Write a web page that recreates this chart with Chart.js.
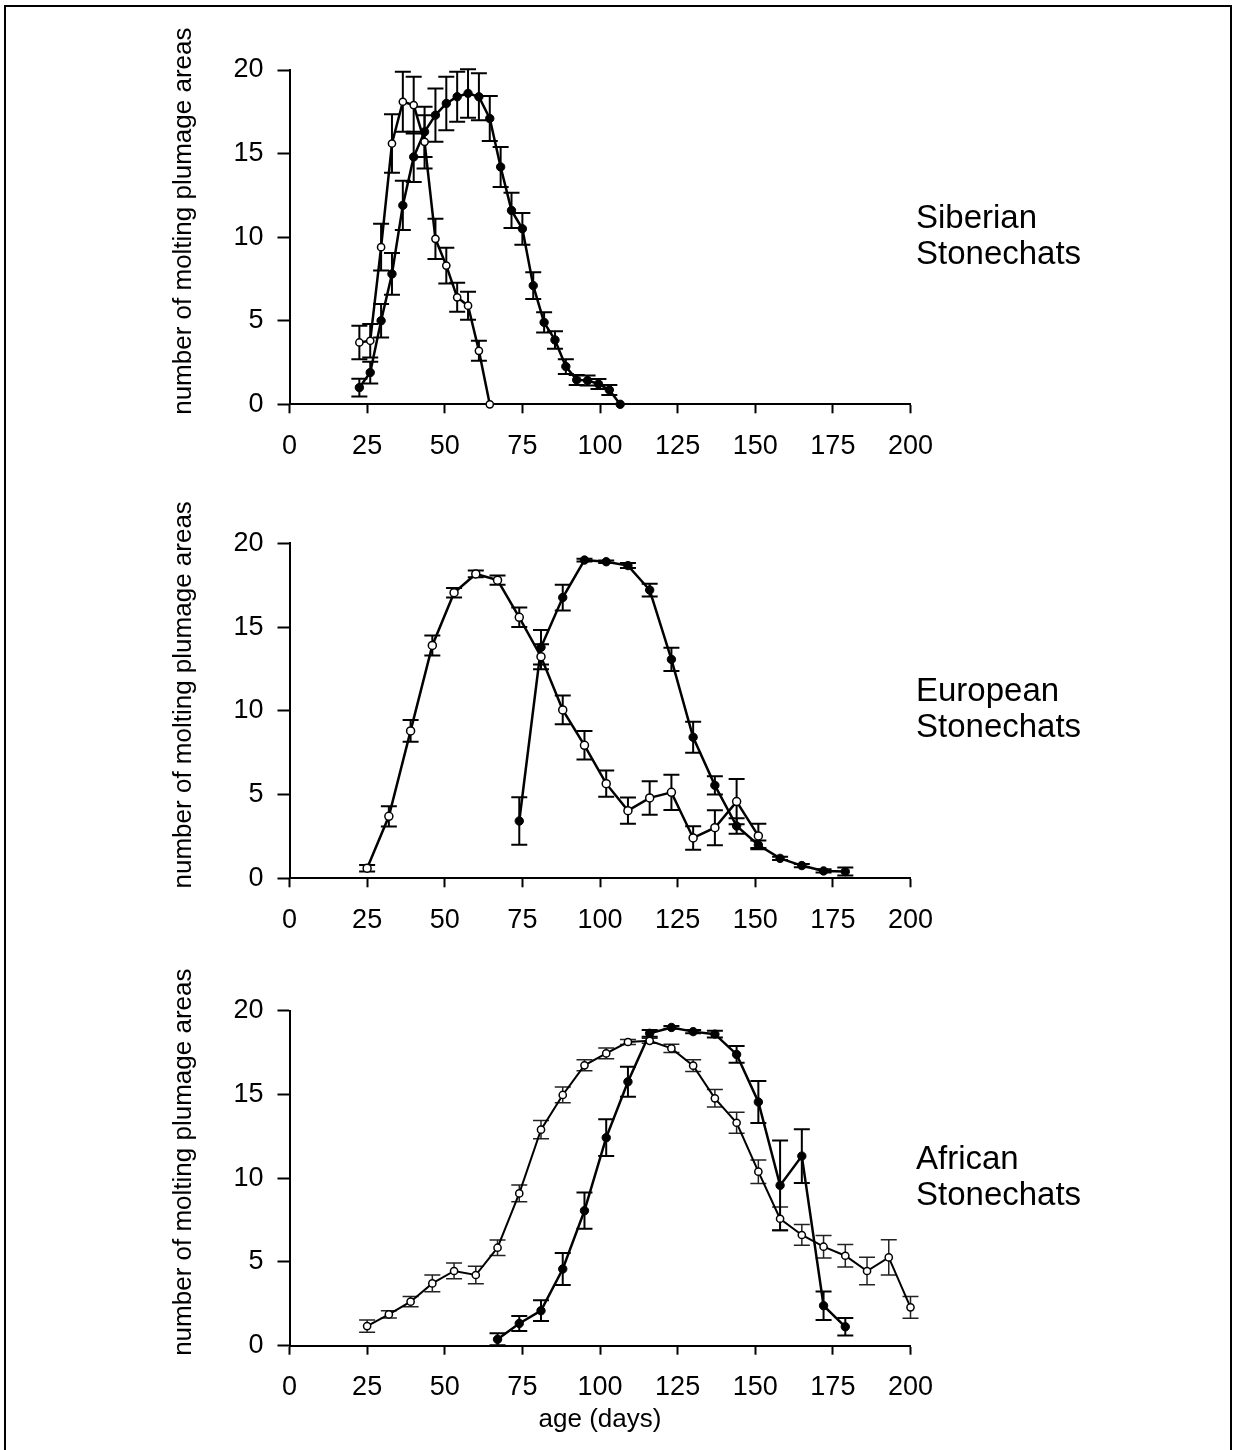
<!DOCTYPE html>
<html>
<head>
<meta charset="utf-8">
<script src="https://cdn.jsdelivr.net/npm/chart.js@4.4.0/dist/chart.umd.min.js"></script>
<style>
  html, body { margin: 0; padding: 0; background: #fff; }
  #pagina { position: relative; width: 1234px; height: 1450px; overflow: hidden; }
  #marco { position: absolute; left: 4px; top: 5px; width: 1228px; height: 1500px;
           border: 2px solid #000; border-bottom: none; box-sizing: border-box; }
  canvas { position: absolute; left: 0; }
</style>
</head>
<body>
<div id="pagina">
  <div id="marco"></div>
  <canvas id="panel1" width="1234" height="470" style="top:0px"></canvas>
  <canvas id="panel2" width="1234" height="470" style="top:470px"></canvas>
  <canvas id="panel3" width="1234" height="510" style="top:940px"></canvas>
</div>
<script>
// Ejes
const xTicks = [0, 25, 50, 75, 100, 125, 150, 175, 200];
const yTicks = [0, 5, 10, 15, 20];
const tituloY = 'number of molting plumage areas';
const tituloX = 'age (days)';

// Siberian Stonechats
const sibDiasAbiertos = [22.5, 26, 29.5, 33, 36.5, 40, 43.5, 47, 50.5, 54, 57.5, 61, 64.5];
const sibAbiertos = [3.7, 3.8, 9.4, 15.6, 18.1, 17.9, 15.7, 9.9, 8.3, 6.4, 5.9, 3.2, 0];
const sibErrAbiertos = [1.0, 1.0, 1.4, 1.75, 1.8, 1.7, 1.6, 1.2, 1.07, 0.87, 0.84, 0.6, 0];
const sibDiasLlenos = [22.5, 26, 29.5, 33, 36.5, 40, 43.5, 47, 50.5, 54, 57.5, 61, 64.5, 68, 71.5, 75, 78.5, 82, 85.5, 89, 92.5, 96, 99.5, 103, 106.5];
const sibLlenos = [1.0, 1.9, 5.0, 7.8, 11.9, 14.8, 16.3, 17.3, 18.0, 18.4, 18.6, 18.4, 17.1, 14.2, 11.6, 10.5, 7.1, 4.9, 3.85, 2.26, 1.46, 1.42, 1.22, 0.86, 0];
const sibErrLlenos = [0.53, 0.65, 1.0, 1.25, 1.47, 1.5, 1.5, 1.6, 1.6, 1.5, 1.45, 1.4, 1.35, 1.2, 1.05, 0.95, 0.8, 0.6, 0.52, 0.44, 0.3, 0.3, 0.3, 0.3, 0];

// European Stonechats
const eurDiasAbiertos = [25, 32, 39, 46, 53, 60, 67, 74, 81, 88, 95, 102, 109, 116, 123, 130, 137, 144, 151];
const eurAbiertos = [0.6, 3.7, 8.8, 13.9, 17.05, 18.17, 17.8, 15.58, 13.23, 10.05, 7.94, 5.65, 4.04, 4.8, 5.13, 2.41, 3.02, 4.58, 2.53];
const eurErrAbiertos = [0.2, 0.6, 0.65, 0.6, 0.28, 0.2, 0.28, 0.58, 0.75, 0.86, 0.85, 0.78, 0.78, 1.0, 1.05, 0.7, 1.05, 1.35, 0.72];
const eurDiasLlenos = [74, 81, 88, 95, 102, 109, 116, 123, 130, 137, 144, 151, 158, 165, 172, 179];
const eurLlenos = [3.42, 13.79, 16.76, 19.0, 18.9, 18.67, 17.21, 13.07, 8.42, 5.55, 3.12, 1.99, 1.19, 0.76, 0.44, 0.4];
const eurErrLlenos = [1.42, 1.03, 0.77, 0.08, 0.08, 0.15, 0.38, 0.7, 0.92, 0.55, 0.46, 0.26, 0.1, 0.1, 0.1, 0.24];

// African Stonechats
const afrDiasAbiertos = [25, 32, 39, 46, 53, 60, 67, 74, 81, 88, 95, 102, 109, 116, 123, 130, 137, 144, 151, 158, 165, 172, 179, 186, 193, 200];
const afrAbiertos = [1.17, 1.87, 2.63, 3.72, 4.46, 4.22, 5.85, 9.09, 12.9, 14.97, 16.74, 17.45, 18.13, 18.2, 17.75, 16.72, 14.77, 13.31, 10.39, 7.58, 6.61, 5.91, 5.37, 4.46, 5.27, 2.29];
const afrErrAbiertos = [0.37, 0.22, 0.3, 0.5, 0.47, 0.52, 0.46, 0.5, 0.55, 0.47, 0.33, 0.32, 0.15, 0.15, 0.25, 0.35, 0.52, 0.62, 0.7, 0.7, 0.62, 0.67, 0.67, 0.82, 1.05, 0.65];
const afrDiasLlenos = [67, 74, 81, 88, 95, 102, 109, 116, 123, 130, 137, 144, 151, 158, 165, 172, 179];
const afrLlenos = [0.38, 1.33, 2.09, 4.58, 8.06, 12.42, 15.76, 18.65, 19.0, 18.75, 18.6, 17.39, 14.55, 9.57, 11.32, 2.39, 1.13];
const afrErrLlenos = [0.36, 0.45, 0.62, 0.96, 1.08, 1.1, 0.9, 0.2, 0.08, 0.1, 0.2, 0.5, 1.26, 2.68, 1.6, 0.85, 0.52];

Chart.defaults.font.family = '"Liberation Sans", Arial, Helvetica, sans-serif';
Chart.defaults.color = '#000';

// Dibuja barras de error debajo de los puntos
const barrasError = {
    id: 'barrasError',
    beforeDatasetsDraw(chart) {
        const { ctx, scales: { x, y } } = chart;
        chart.data.datasets.forEach(ds => {
            if (!ds.errores) return;
            ctx.save();
            ctx.strokeStyle = ds.colorError || '#000';
            ctx.lineWidth = ds.grosorError || 2;
            const w = 8;
            ds.data.forEach((p, j) => {
                const e = ds.errores[j];
                if (!e) return;
                const px = x.getPixelForValue(p.x);
                const yArr = y.getPixelForValue(p.y + e);
                const yAba = y.getPixelForValue(p.y - e);
                ctx.beginPath();
                ctx.moveTo(px, yArr); ctx.lineTo(px, yAba);
                ctx.moveTo(px - w, yArr); ctx.lineTo(px + w, yArr);
                ctx.moveTo(px - w, yAba); ctx.lineTo(px + w, yAba);
                ctx.stroke();
            });
            ctx.restore();
        });
    }
};

// Titulo vertical y nombre de la especie
const textos = {
    id: 'textos',
    afterDraw(chart, args, opts) {
        const { ctx, chartArea: a } = chart;
        ctx.save();
        ctx.fillStyle = '#000';
        ctx.font = '26px "Liberation Sans", Arial, sans-serif';
        ctx.translate(191, (a.top + a.bottom) / 2 - 16);
        ctx.rotate(-Math.PI / 2);
        ctx.textAlign = 'center';
        ctx.textBaseline = 'alphabetic';
        ctx.fillText(tituloY, 0, 0);
        ctx.restore();

        ctx.save();
        ctx.fillStyle = '#000';
        ctx.font = '33px "Liberation Sans", Arial, sans-serif';
        ctx.textAlign = 'left';
        ctx.textBaseline = 'alphabetic';
        opts.especie.forEach((linea, i) => {
            ctx.fillText(linea, 916, a.top + 158 + i * 36);
        });
        ctx.restore();
    }
};

function puntos(dias, valores) {
    return dias.map((d, i) => ({ x: d, y: valores[i] }));
}

function crearPanel(idCanvas, cfg) {
    const canvas = document.getElementById(idCanvas);
    const alto = canvas.height;
    const arriba = parseFloat(canvas.style.top);
    const altoEjeX = arriba + alto - cfg.areaAbajo;

    new Chart(canvas, {
        type: 'line',
        data: {
            datasets: [{
                label: 'abiertos',
                data: puntos(cfg.diasAbiertos, cfg.abiertos),
                errores: cfg.errAbiertos,
                colorError: cfg.colorErrAbierto || '#000',
                grosorError: cfg.grosorErrAbierto || 2,
                borderColor: '#000',
                borderWidth: cfg.grosorLineaAbierta || 2.5,
                pointBackgroundColor: '#fff',
                pointBorderColor: '#000',
                pointBorderWidth: 1.5,
                pointRadius: cfg.radioAbierto || 4,
                tension: 0,
                clip: false
            }, {
                label: 'llenos',
                data: puntos(cfg.diasLlenos, cfg.llenos),
                errores: cfg.errLlenos,
                borderColor: '#000',
                borderWidth: 2.5,
                pointBackgroundColor: '#000',
                pointBorderColor: '#000',
                pointBorderWidth: 1,
                pointRadius: 4.2,
                tension: 0,
                clip: false
            }]
        },
        options: {
            responsive: false,
            animation: false,
            layout: { padding: { top: cfg.areaArriba - arriba, right: 323.5, left: 0, bottom: 0 } },
            plugins: {
                legend: { display: false },
                tooltip: { enabled: false },
                textos: { especie: cfg.especie }
            },
            scales: {
                x: {
                    type: 'linear',
                    min: 0,
                    max: 200,
                    afterBuildTicks: s => { s.ticks = xTicks.map(v => ({ value: v })); },
                    afterFit: s => { s.height = altoEjeX; },
                    grid: { drawOnChartArea: false, tickLength: 9, tickWidth: 2, color: '#000' },
                    border: { display: true, color: '#000', width: 2 },
                    ticks: { font: { size: 27 }, padding: 17, maxRotation: 0 },
                    title: {
                        display: !!cfg.conTituloX,
                        text: tituloX,
                        font: { size: 26 },
                        padding: { top: 0, bottom: 15 }
                    }
                },
                y: {
                    type: 'linear',
                    min: 0,
                    max: 20,
                    afterBuildTicks: s => { s.ticks = yTicks.map(v => ({ value: v })); },
                    afterFit: s => { s.width = 289.5; },
                    grid: { drawOnChartArea: false, tickLength: 12, tickWidth: 2, color: '#000' },
                    border: { display: true, color: '#000', width: 2 },
                    ticks: { font: { size: 27 }, padding: 14 }
                }
            }
        },
        plugins: [barrasError, textos]
    });
}

crearPanel('panel1', {
    areaArriba: 70, areaAbajo: 404.3,
    diasAbiertos: sibDiasAbiertos, abiertos: sibAbiertos, errAbiertos: sibErrAbiertos,
    diasLlenos: sibDiasLlenos, llenos: sibLlenos, errLlenos: sibErrLlenos,
    radioAbierto: 3.6,
    especie: ['Siberian', 'Stonechats']
});

crearPanel('panel2', {
    areaArriba: 543.3, areaAbajo: 878.3,
    diasAbiertos: eurDiasAbiertos, abiertos: eurAbiertos, errAbiertos: eurErrAbiertos,
    diasLlenos: eurDiasLlenos, llenos: eurLlenos, errLlenos: eurErrLlenos,
    radioAbierto: 4,
    especie: ['European', 'Stonechats']
});

crearPanel('panel3', {
    areaArriba: 1010.7, areaAbajo: 1345.7,
    diasAbiertos: afrDiasAbiertos, abiertos: afrAbiertos, errAbiertos: afrErrAbiertos,
    diasLlenos: afrDiasLlenos, llenos: afrLlenos, errLlenos: afrErrLlenos,
    radioAbierto: 3.6,
    grosorLineaAbierta: 2,
    grosorErrAbierto: 1.5,
    colorErrAbierto: '#222',
    conTituloX: true,
    especie: ['African', 'Stonechats']
});
</script>
</body>
</html>
